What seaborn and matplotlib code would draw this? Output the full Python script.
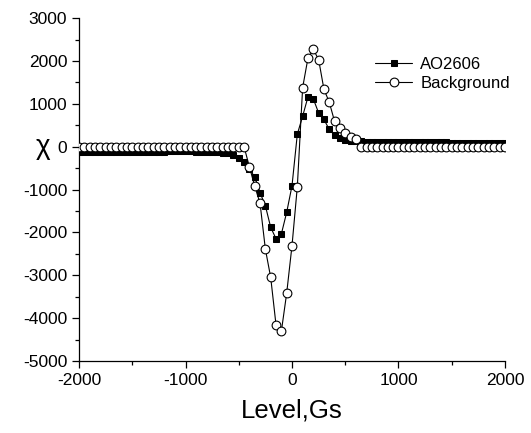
import numpy as np
import pandas as pd
import seaborn as sns
import matplotlib
matplotlib.use("Agg")
import matplotlib.pyplot as plt
from matplotlib.ticker import MultipleLocator

# Field levels (Gs), step 50 from -2000 to 2000
level = list(range(-2000, 2001, 50))

ao2606 = (
    [-120, -120, -120, -118, -118, -118, -116, -116, -115, -115,
     -114, -114, -113, -113, -112, -112, -112, -111, -111, -110,
     -110, -110, -112, -115, -118, -122, -128, -135, -150]
    + [-196, -273, -366, -529, -701, -1074, -1378, -1881, -2147, -2037,
       -1532, -911, 294, 713, 1163, 1117, 790, 636, 403, 270, 193, 154]
    + [135, 128, 124, 120, 118, 116, 114, 112, 110, 108,
       107, 106, 105, 104, 103, 102, 101, 100, 99, 98,
       97, 96, 95, 94, 93, 92, 91, 90, 90, 90]
)

background = (
    [0] * 32
    + [-470, -920, -1320, -2390, -3050, -4160, -4310, -3420, -2310, -935,
       1380, 2070, 2270, 2035, 1340, 1040, 590, 440, 310, 230, 170]
    + [0] * 28
)

df = pd.DataFrame({"level": level, "AO2606": ao2606, "Background": background})

sns.set_style("ticks")
plt.rcParams["font.family"] = ["Liberation Sans", "DejaVu Sans"]
plt.rcParams["axes.unicode_minus"] = False
plt.rcParams["text.color"] = "black"
plt.rcParams["axes.labelcolor"] = "black"

fig = plt.figure(figsize=(5.31, 4.33), dpi=100)
ax = fig.add_axes([0.1488, 0.1663, 0.8022, 0.7917])

sns.lineplot(data=df, x="level", y="AO2606", ax=ax, color="black", lw=0.8,
             marker="s", markersize=4.2, markerfacecolor="black",
             markeredgecolor="black", label="AO2606", zorder=2)
sns.lineplot(data=df, x="level", y="Background", ax=ax, color="black", lw=0.8,
             marker="o", markersize=6.3, markerfacecolor="white",
             markeredgecolor="black", markeredgewidth=0.8,
             label="Background", zorder=3)

ax.set_xlim(-2000, 2000)
ax.set_ylim(-5000, 3000)
ax.xaxis.set_major_locator(MultipleLocator(1000))
ax.xaxis.set_minor_locator(MultipleLocator(500))
ax.yaxis.set_major_locator(MultipleLocator(1000))
ax.yaxis.set_minor_locator(MultipleLocator(500))
ax.tick_params(which="major", direction="out", length=5, width=0.9,
               labelsize=12.5, colors="black")
ax.tick_params(which="minor", direction="out", length=3, width=0.9,
               colors="black")

for s in ["top", "right"]:
    ax.spines[s].set_visible(False)
for s in ["left", "bottom"]:
    ax.spines[s].set_linewidth(0.9)
    ax.spines[s].set_color("black")

ax.set_xlabel("Level,Gs", fontsize=18.5, labelpad=8)
ax.set_ylabel("χ", fontsize=20, rotation=0, va="center")
ax.yaxis.set_label_coords(-0.085, 0.625)

leg = ax.legend(loc="upper right", bbox_to_anchor=(1.035, 0.915), frameon=False,
                fontsize=12, handlelength=2.2, handletextpad=0.5,
                labelspacing=0.22, borderaxespad=0.2)

fig.savefig("out.png", dpi=100)
